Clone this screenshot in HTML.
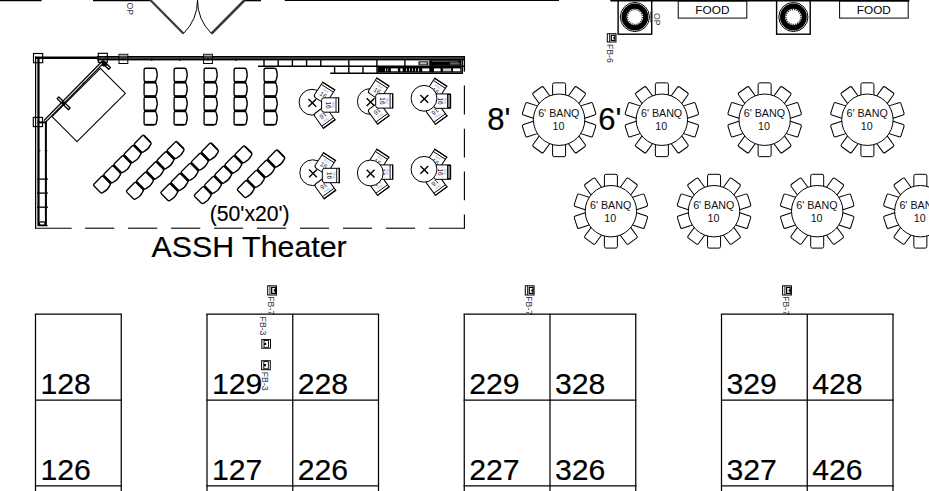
<!DOCTYPE html>
<html lang="en"><head><meta charset="utf-8"><title>Floor plan</title>
<style>
html,body{margin:0;padding:0;background:#fff;}
body{width:929px;height:491px;overflow:hidden;}
svg{display:block;}
svg text{font-family:"Liberation Sans",Arial,Helvetica,sans-serif;}
</style></head><body>
<svg width="929" height="491" viewBox="0 0 929 491">
<rect x="0" y="0" width="929" height="491" fill="#fff"/>
<line x1="0.00" y1="0.50" x2="41.60" y2="0.50" stroke="#000" stroke-width="1.6" />
<line x1="93.00" y1="0.50" x2="150.30" y2="0.50" stroke="#000" stroke-width="1.6" />
<line x1="244.70" y1="0.50" x2="261.00" y2="0.50" stroke="#000" stroke-width="1.6" />
<line x1="284.70" y1="0.30" x2="559.00" y2="0.30" stroke="#000" stroke-width="1.2" />
<line x1="610.30" y1="0.60" x2="909.40" y2="0.60" stroke="#000" stroke-width="2.0" />
<line x1="150.30" y1="0.00" x2="183.40" y2="33.60" stroke="#383838" stroke-width="2.2" />
<line x1="244.70" y1="0.00" x2="211.50" y2="33.60" stroke="#383838" stroke-width="2.6" />
<path d="M183.4 33.6 A47.2 47.2 0 0 0 197.5 0" fill="none" stroke="#000" stroke-width="1.0"/>
<path d="M211.5 33.6 A47.2 47.2 0 0 1 197.5 0" fill="none" stroke="#000" stroke-width="1.0"/>
<text x="126.50" y="2.50" font-size="8.6" text-anchor="start" fill="#334" transform="rotate(90 126.50 2.50)" >OP</text>
<rect x="618.10" y="0.30" width="33.60" height="33.90" rx="0" fill="none" stroke="#000" stroke-width="1.4" />
<circle cx="634.90" cy="17.00" r="14.55" fill="none" stroke="#000" stroke-width="1.0"/>
<circle cx="634.90" cy="17.00" r="10.85" fill="none" stroke="#000" stroke-width="5.1"/>
<circle cx="634.90" cy="17.00" r="7.4" fill="none" stroke="#222" stroke-width="1.1" stroke-dasharray="1.3 0.9"/>
<rect x="776.60" y="0.30" width="33.60" height="33.90" rx="0" fill="none" stroke="#000" stroke-width="1.4" />
<circle cx="793.40" cy="17.00" r="14.55" fill="none" stroke="#000" stroke-width="1.0"/>
<circle cx="793.40" cy="17.00" r="10.85" fill="none" stroke="#000" stroke-width="5.1"/>
<circle cx="793.40" cy="17.00" r="7.4" fill="none" stroke="#222" stroke-width="1.1" stroke-dasharray="1.3 0.9"/>
<rect x="650.30" y="12.00" width="1.60" height="10.00" rx="0" fill="none" stroke="#333" stroke-width="0.6" />
<text x="653.60" y="13.00" font-size="8.6" text-anchor="start" fill="#334" transform="rotate(90 653.60 13.00)" >OP</text>
<rect x="678.20" y="1.20" width="68.60" height="16.90" rx="0" fill="#fff" stroke="#000" stroke-width="1.0" />
<text x="712.40" y="13.55" font-size="11.8" text-anchor="middle" fill="#000" >FOOD</text>
<rect x="839.60" y="1.20" width="68.60" height="16.90" rx="0" fill="#fff" stroke="#000" stroke-width="1.0" />
<text x="873.80" y="13.55" font-size="11.8" text-anchor="middle" fill="#000" >FOOD</text>
<rect x="607.30" y="33.70" width="8.70" height="8.30" rx="0" fill="#fff" stroke="#000" stroke-width="1.0" />
<line x1="609.50" y1="33.70" x2="609.50" y2="42.00" stroke="#000" stroke-width="0.8" />
<rect x="610.60" y="34.70" width="4.90" height="6.30" rx="0" fill="#000" stroke="#000" stroke-width="0" />
<rect x="611.90" y="35.90" width="2.40" height="3.90" rx="0" fill="#fff" stroke="#000" stroke-width="0" />
<rect x="613.30" y="36.85" width="1.70" height="2.00" rx="0" fill="#000" stroke="#000" stroke-width="0" />
<text x="607.30" y="44.00" font-size="8.7" text-anchor="start" fill="#334" transform="rotate(90 607.30 44.00)" >FB-6</text>
<rect x="267.70" y="285.80" width="8.80" height="9.20" rx="0" fill="#fff" stroke="#000" stroke-width="1.0" />
<line x1="269.90" y1="285.80" x2="269.90" y2="295.00" stroke="#000" stroke-width="0.8" />
<rect x="271.00" y="286.80" width="5.00" height="7.20" rx="0" fill="#000" stroke="#000" stroke-width="0" />
<rect x="272.30" y="288.00" width="2.50" height="4.80" rx="0" fill="#fff" stroke="#000" stroke-width="0" />
<rect x="273.70" y="289.40" width="1.80" height="2.00" rx="0" fill="#000" stroke="#000" stroke-width="0" />
<text x="268.10" y="296.30" font-size="8.7" text-anchor="start" fill="#334" transform="rotate(90 268.10 296.30)" >FB-7</text>
<rect x="525.30" y="285.80" width="8.80" height="9.20" rx="0" fill="#fff" stroke="#000" stroke-width="1.0" />
<line x1="527.50" y1="285.80" x2="527.50" y2="295.00" stroke="#000" stroke-width="0.8" />
<rect x="528.60" y="286.80" width="5.00" height="7.20" rx="0" fill="#000" stroke="#000" stroke-width="0" />
<rect x="529.90" y="288.00" width="2.50" height="4.80" rx="0" fill="#fff" stroke="#000" stroke-width="0" />
<rect x="531.30" y="289.40" width="1.80" height="2.00" rx="0" fill="#000" stroke="#000" stroke-width="0" />
<text x="525.70" y="296.30" font-size="8.7" text-anchor="start" fill="#334" transform="rotate(90 525.70 296.30)" >FB-7</text>
<rect x="782.60" y="285.80" width="8.80" height="9.20" rx="0" fill="#fff" stroke="#000" stroke-width="1.0" />
<line x1="784.80" y1="285.80" x2="784.80" y2="295.00" stroke="#000" stroke-width="0.8" />
<rect x="785.90" y="286.80" width="5.00" height="7.20" rx="0" fill="#000" stroke="#000" stroke-width="0" />
<rect x="787.20" y="288.00" width="2.50" height="4.80" rx="0" fill="#fff" stroke="#000" stroke-width="0" />
<rect x="788.60" y="289.40" width="1.80" height="2.00" rx="0" fill="#000" stroke="#000" stroke-width="0" />
<text x="783.00" y="296.30" font-size="8.7" text-anchor="start" fill="#334" transform="rotate(90 783.00 296.30)" >FB-7</text>
<rect x="261.80" y="339.60" width="8.70" height="8.60" rx="0" fill="#fff" stroke="#000" stroke-width="1.0" />
<rect x="264.00" y="340.50" width="4.50" height="6.80" rx="0" fill="#fff" stroke="#000" stroke-width="0.9" />
<rect x="264.20" y="342.80" width="2.00" height="2.20" rx="0" fill="#000" stroke="#000" stroke-width="0" />
<text x="259.70" y="316.60" font-size="8.7" text-anchor="start" fill="#334" transform="rotate(90 259.70 316.60)" >FB-3</text>
<rect x="261.60" y="360.70" width="8.70" height="9.00" rx="0" fill="#fff" stroke="#000" stroke-width="1.0" />
<rect x="263.80" y="361.60" width="4.50" height="7.20" rx="0" fill="#fff" stroke="#000" stroke-width="0.9" />
<rect x="264.00" y="364.10" width="2.00" height="2.20" rx="0" fill="#000" stroke="#000" stroke-width="0" />
<text x="262.00" y="371.80" font-size="8.7" text-anchor="start" fill="#334" transform="rotate(90 262.00 371.80)" >FB-3</text>
<line x1="35.50" y1="228.20" x2="71.70" y2="228.20" stroke="#000" stroke-width="1.1" />
<line x1="85.10" y1="228.20" x2="114.30" y2="228.20" stroke="#000" stroke-width="1.1" />
<line x1="128.07" y1="228.20" x2="157.27" y2="228.20" stroke="#000" stroke-width="1.1" />
<line x1="171.04" y1="228.20" x2="200.24" y2="228.20" stroke="#000" stroke-width="1.1" />
<line x1="214.01" y1="228.20" x2="243.21" y2="228.20" stroke="#000" stroke-width="1.1" />
<line x1="256.98" y1="228.20" x2="286.18" y2="228.20" stroke="#000" stroke-width="1.1" />
<line x1="299.95" y1="228.20" x2="329.15" y2="228.20" stroke="#000" stroke-width="1.1" />
<line x1="342.92" y1="228.20" x2="372.12" y2="228.20" stroke="#000" stroke-width="1.1" />
<line x1="385.89" y1="228.20" x2="415.09" y2="228.20" stroke="#000" stroke-width="1.1" />
<line x1="428.90" y1="228.20" x2="464.40" y2="228.20" stroke="#000" stroke-width="1.1" />
<line x1="464.40" y1="85.60" x2="464.40" y2="114.60" stroke="#000" stroke-width="1.1" />
<line x1="464.40" y1="128.70" x2="464.40" y2="157.50" stroke="#000" stroke-width="1.1" />
<line x1="464.40" y1="171.60" x2="464.40" y2="200.30" stroke="#000" stroke-width="1.1" />
<line x1="464.40" y1="214.40" x2="464.40" y2="228.70" stroke="#000" stroke-width="1.1" />
<line x1="35.60" y1="56.50" x2="35.60" y2="228.70" stroke="#000" stroke-width="1.2" />
<rect x="36.20" y="59.00" width="1.40" height="166.00" rx="0" fill="#c8c8c8" stroke="#000" stroke-width="0" />
<line x1="38.50" y1="58.00" x2="38.50" y2="225.50" stroke="#000" stroke-width="2.2" />
<line x1="45.90" y1="121.50" x2="45.90" y2="225.50" stroke="#000" stroke-width="2.0" />
<line x1="37.60" y1="122.40" x2="46.90" y2="122.40" stroke="#000" stroke-width="2.0" />
<line x1="38.00" y1="150.70" x2="40.50" y2="150.70" stroke="#000" stroke-width="0.9" />
<line x1="44.80" y1="150.70" x2="47.40" y2="150.70" stroke="#000" stroke-width="0.9" />
<line x1="37.00" y1="179.10" x2="47.90" y2="179.10" stroke="#000" stroke-width="1.3" />
<line x1="37.00" y1="193.10" x2="47.90" y2="193.10" stroke="#000" stroke-width="1.3" />
<line x1="37.00" y1="207.20" x2="47.90" y2="207.20" stroke="#000" stroke-width="1.3" />
<rect x="39.40" y="221.80" width="5.60" height="3.40" rx="1.4" fill="none" stroke="#000" stroke-width="1.2" />
<line x1="37.60" y1="225.60" x2="47.60" y2="225.60" stroke="#000" stroke-width="1.3" />
<line x1="35.00" y1="57.75" x2="98.00" y2="57.75" stroke="#000" stroke-width="2.5" />
<rect x="97.00" y="56.10" width="367.40" height="4.20" rx="0" fill="#505050" stroke="#000" stroke-width="0" />
<line x1="97.00" y1="56.70" x2="464.40" y2="56.70" stroke="#000" stroke-width="1.3" />
<line x1="97.00" y1="59.50" x2="464.40" y2="59.50" stroke="#000" stroke-width="1.6" />
<rect x="33.50" y="53.50" width="9.20" height="9.20" rx="0" fill="none" stroke="#000" stroke-width="1.15" />
<rect x="98.30" y="53.30" width="9.00" height="9.00" rx="0" fill="none" stroke="#000" stroke-width="1.15" />
<rect x="33.30" y="117.40" width="9.20" height="9.20" rx="0" fill="none" stroke="#000" stroke-width="1.15" />
<rect x="119.00" y="54.30" width="8.80" height="9.20" rx="0" fill="none" stroke="#000" stroke-width="1.0" />
<rect x="119.50" y="54.80" width="7.80" height="1.60" rx="0" fill="#aaa" stroke="#000" stroke-width="0" />
<circle cx="123.40" cy="59.50" r="0.90" fill="#000" stroke="#000" stroke-width="0"/>
<rect x="203.60" y="54.30" width="8.80" height="9.20" rx="0" fill="none" stroke="#000" stroke-width="1.0" />
<rect x="204.10" y="54.80" width="7.80" height="1.60" rx="0" fill="#aaa" stroke="#000" stroke-width="0" />
<circle cx="208.00" cy="59.50" r="0.90" fill="#000" stroke="#000" stroke-width="0"/>
<circle cx="151.60" cy="59.70" r="1.15" fill="#000" stroke="#000" stroke-width="0"/>
<circle cx="179.70" cy="59.70" r="1.15" fill="#000" stroke="#000" stroke-width="0"/>
<circle cx="236.10" cy="59.70" r="1.15" fill="#000" stroke="#000" stroke-width="0"/>
<circle cx="264.00" cy="59.70" r="1.15" fill="#000" stroke="#000" stroke-width="0"/>
<path d="M100.40 68.30 L125.40 93.30 L77.00 141.70 L52.00 116.70 Z" fill="none" stroke="#000" stroke-width="1.05" stroke-linejoin="round"/>
<path d="M58.80 96.91 L70.08 107.97 L68.40 109.69 L57.12 98.63 Z" fill="#fff" stroke="#000" stroke-width="1.35" stroke-linejoin="round"/>
<path d="M103.17 60.49 L110.38 67.56 L108.70 69.28 L101.49 62.21 Z" fill="#fff" stroke="#000" stroke-width="1.35" stroke-linejoin="round"/>
<line x1="103.00" y1="62.00" x2="44.90" y2="121.30" stroke="#000" stroke-width="3.6" />
<line x1="101.95" y1="63.07" x2="45.25" y2="120.94" stroke="#e8e8e8" stroke-width="1.2" />
<circle cx="63.60" cy="103.30" r="2.10" fill="#000" stroke="#000" stroke-width="0"/>
<circle cx="104.30" cy="64.00" r="2.60" fill="#000" stroke="#000" stroke-width="0"/>
<circle cx="83.50" cy="83.30" r="0.90" fill="#000" stroke="#000" stroke-width="0"/>
<line x1="258.00" y1="66.30" x2="464.40" y2="66.30" stroke="#000" stroke-width="1.4" />
<line x1="264.00" y1="59.50" x2="264.00" y2="66.30" stroke="#000" stroke-width="1.4" />
<line x1="278.20" y1="59.50" x2="278.20" y2="66.30" stroke="#000" stroke-width="1.4" />
<line x1="292.40" y1="59.50" x2="292.40" y2="66.30" stroke="#000" stroke-width="1.4" />
<line x1="306.60" y1="59.50" x2="306.60" y2="66.30" stroke="#000" stroke-width="1.4" />
<line x1="320.80" y1="59.50" x2="320.80" y2="66.30" stroke="#000" stroke-width="1.4" />
<line x1="348.80" y1="59.50" x2="348.80" y2="66.30" stroke="#000" stroke-width="1.4" />
<line x1="376.90" y1="59.50" x2="376.90" y2="66.30" stroke="#000" stroke-width="1.4" />
<line x1="404.90" y1="59.50" x2="404.90" y2="66.30" stroke="#000" stroke-width="1.4" />
<line x1="330.20" y1="73.20" x2="462.60" y2="73.20" stroke="#000" stroke-width="1.4" />
<line x1="334.60" y1="66.30" x2="334.60" y2="73.20" stroke="#000" stroke-width="1.4" />
<line x1="348.80" y1="66.30" x2="348.80" y2="73.20" stroke="#000" stroke-width="1.4" />
<line x1="363.00" y1="66.30" x2="363.00" y2="73.20" stroke="#000" stroke-width="1.4" />
<line x1="377.00" y1="66.30" x2="377.00" y2="73.20" stroke="#000" stroke-width="1.4" />
<rect x="418.40" y="61.20" width="10.00" height="4.20" rx="0" fill="#333" stroke="#000" stroke-width="0" />
<rect x="420.20" y="62.30" width="6.40" height="2.00" rx="0" fill="#bbb" stroke="#000" stroke-width="0" />
<rect x="429.20" y="60.20" width="32.20" height="5.60" rx="0" fill="#000" stroke="#000" stroke-width="0" />
<rect x="450.00" y="62.40" width="9.50" height="2.20" rx="0" fill="#666" stroke="#000" stroke-width="0" />
<rect x="432.00" y="61.00" width="26.00" height="0.70" rx="0" fill="#666" stroke="#000" stroke-width="0" />
<rect x="377.60" y="67.00" width="84.00" height="5.60" rx="0" fill="#000" stroke="#000" stroke-width="0" />
<rect x="385.00" y="68.40" width="1.00" height="2.90" rx="0" fill="#ccc" stroke="#000" stroke-width="0" />
<rect x="387.40" y="68.40" width="0.80" height="2.90" rx="0" fill="#ccc" stroke="#000" stroke-width="0" />
<rect x="390.80" y="68.40" width="7.10" height="2.90" rx="0" fill="#fff" stroke="#000" stroke-width="0" />
<rect x="400.30" y="68.40" width="2.30" height="2.90" rx="0" fill="#fff" stroke="#000" stroke-width="0" />
<rect x="406.00" y="68.40" width="1.00" height="2.90" rx="0" fill="#bbb" stroke="#000" stroke-width="0" />
<rect x="409.00" y="68.40" width="1.00" height="2.90" rx="0" fill="#bbb" stroke="#000" stroke-width="0" />
<rect x="412.00" y="68.40" width="1.00" height="2.90" rx="0" fill="#bbb" stroke="#000" stroke-width="0" />
<rect x="415.00" y="68.40" width="1.00" height="2.90" rx="0" fill="#bbb" stroke="#000" stroke-width="0" />
<rect x="418.00" y="68.40" width="1.20" height="2.90" rx="0" fill="#ccc" stroke="#000" stroke-width="0" />
<rect x="422.20" y="68.40" width="7.10" height="2.90" rx="0" fill="#fff" stroke="#000" stroke-width="0" />
<rect x="434.00" y="68.40" width="6.50" height="2.90" rx="0" fill="#fff" stroke="#000" stroke-width="0" />
<rect x="442.90" y="68.40" width="8.30" height="2.90" rx="0" fill="#ccc" stroke="#000" stroke-width="0" />
<rect x="453.00" y="68.40" width="7.30" height="2.90" rx="0" fill="#fff" stroke="#000" stroke-width="0" />
<line x1="399.20" y1="67.00" x2="399.20" y2="72.60" stroke="#000" stroke-width="1.0" />
<line x1="431.80" y1="67.00" x2="431.80" y2="72.60" stroke="#000" stroke-width="1.0" />
<line x1="441.70" y1="67.00" x2="441.70" y2="72.60" stroke="#000" stroke-width="1.0" />
<line x1="464.40" y1="56.20" x2="464.40" y2="71.60" stroke="#000" stroke-width="1.3" />
<line x1="462.40" y1="59.50" x2="462.40" y2="73.80" stroke="#000" stroke-width="1.3" />
<path d="M0 1.5 L0 10.20 Q0 12.20 1.8 12.30 Q6.75 13.95 11.10 12.30 Q13.50 12.20 13.50 9.80 L13.50 1.5 Q13.50 0 12.00 0 L1.5 0 Q0 0 0 1.5 Z" fill="none" stroke="#000" stroke-width="1.35" transform="matrix(0.0000 1.0000 1.0000 0.0000 144.10 68.20)"/>
<path d="M0 1.5 L0 10.20 Q0 12.20 1.8 12.30 Q6.75 13.95 11.10 12.30 Q13.50 12.20 13.50 9.80 L13.50 1.5 Q13.50 0 12.00 0 L1.5 0 Q0 0 0 1.5 Z" fill="none" stroke="#000" stroke-width="1.35" transform="matrix(0.0000 1.0000 1.0000 0.0000 144.10 82.60)"/>
<line x1="144.30" y1="82.15" x2="156.10" y2="82.15" stroke="#000" stroke-width="2.5" />
<path d="M0 1.5 L0 10.20 Q0 12.20 1.8 12.30 Q6.75 13.95 11.10 12.30 Q13.50 12.20 13.50 9.80 L13.50 1.5 Q13.50 0 12.00 0 L1.5 0 Q0 0 0 1.5 Z" fill="none" stroke="#000" stroke-width="1.35" transform="matrix(0.0000 1.0000 1.0000 0.0000 144.10 97.00)"/>
<line x1="144.30" y1="96.55" x2="156.10" y2="96.55" stroke="#000" stroke-width="2.5" />
<path d="M0 1.5 L0 10.20 Q0 12.20 1.8 12.30 Q6.75 13.95 11.10 12.30 Q13.50 12.20 13.50 9.80 L13.50 1.5 Q13.50 0 12.00 0 L1.5 0 Q0 0 0 1.5 Z" fill="none" stroke="#000" stroke-width="1.35" transform="matrix(0.0000 1.0000 1.0000 0.0000 144.10 111.40)"/>
<line x1="144.30" y1="110.95" x2="156.10" y2="110.95" stroke="#000" stroke-width="2.5" />
<line x1="145.30" y1="124.70" x2="154.30" y2="124.70" stroke="#000" stroke-width="1.7" />
<path d="M0 1.5 L0 10.20 Q0 12.20 1.8 12.30 Q6.75 13.95 11.10 12.30 Q13.50 12.20 13.50 9.80 L13.50 1.5 Q13.50 0 12.00 0 L1.5 0 Q0 0 0 1.5 Z" fill="none" stroke="#000" stroke-width="1.35" transform="matrix(0.0000 1.0000 1.0000 0.0000 174.10 68.20)"/>
<path d="M0 1.5 L0 10.20 Q0 12.20 1.8 12.30 Q6.75 13.95 11.10 12.30 Q13.50 12.20 13.50 9.80 L13.50 1.5 Q13.50 0 12.00 0 L1.5 0 Q0 0 0 1.5 Z" fill="none" stroke="#000" stroke-width="1.35" transform="matrix(0.0000 1.0000 1.0000 0.0000 174.10 82.60)"/>
<line x1="174.30" y1="82.15" x2="186.10" y2="82.15" stroke="#000" stroke-width="2.5" />
<path d="M0 1.5 L0 10.20 Q0 12.20 1.8 12.30 Q6.75 13.95 11.10 12.30 Q13.50 12.20 13.50 9.80 L13.50 1.5 Q13.50 0 12.00 0 L1.5 0 Q0 0 0 1.5 Z" fill="none" stroke="#000" stroke-width="1.35" transform="matrix(0.0000 1.0000 1.0000 0.0000 174.10 97.00)"/>
<line x1="174.30" y1="96.55" x2="186.10" y2="96.55" stroke="#000" stroke-width="2.5" />
<path d="M0 1.5 L0 10.20 Q0 12.20 1.8 12.30 Q6.75 13.95 11.10 12.30 Q13.50 12.20 13.50 9.80 L13.50 1.5 Q13.50 0 12.00 0 L1.5 0 Q0 0 0 1.5 Z" fill="none" stroke="#000" stroke-width="1.35" transform="matrix(0.0000 1.0000 1.0000 0.0000 174.10 111.40)"/>
<line x1="174.30" y1="110.95" x2="186.10" y2="110.95" stroke="#000" stroke-width="2.5" />
<line x1="175.30" y1="124.70" x2="184.30" y2="124.70" stroke="#000" stroke-width="1.7" />
<path d="M0 1.5 L0 10.20 Q0 12.20 1.8 12.30 Q6.75 13.95 11.10 12.30 Q13.50 12.20 13.50 9.80 L13.50 1.5 Q13.50 0 12.00 0 L1.5 0 Q0 0 0 1.5 Z" fill="none" stroke="#000" stroke-width="1.35" transform="matrix(0.0000 1.0000 1.0000 0.0000 204.10 68.20)"/>
<path d="M0 1.5 L0 10.20 Q0 12.20 1.8 12.30 Q6.75 13.95 11.10 12.30 Q13.50 12.20 13.50 9.80 L13.50 1.5 Q13.50 0 12.00 0 L1.5 0 Q0 0 0 1.5 Z" fill="none" stroke="#000" stroke-width="1.35" transform="matrix(0.0000 1.0000 1.0000 0.0000 204.10 82.60)"/>
<line x1="204.30" y1="82.15" x2="216.10" y2="82.15" stroke="#000" stroke-width="2.5" />
<path d="M0 1.5 L0 10.20 Q0 12.20 1.8 12.30 Q6.75 13.95 11.10 12.30 Q13.50 12.20 13.50 9.80 L13.50 1.5 Q13.50 0 12.00 0 L1.5 0 Q0 0 0 1.5 Z" fill="none" stroke="#000" stroke-width="1.35" transform="matrix(0.0000 1.0000 1.0000 0.0000 204.10 97.00)"/>
<line x1="204.30" y1="96.55" x2="216.10" y2="96.55" stroke="#000" stroke-width="2.5" />
<path d="M0 1.5 L0 10.20 Q0 12.20 1.8 12.30 Q6.75 13.95 11.10 12.30 Q13.50 12.20 13.50 9.80 L13.50 1.5 Q13.50 0 12.00 0 L1.5 0 Q0 0 0 1.5 Z" fill="none" stroke="#000" stroke-width="1.35" transform="matrix(0.0000 1.0000 1.0000 0.0000 204.10 111.40)"/>
<line x1="204.30" y1="110.95" x2="216.10" y2="110.95" stroke="#000" stroke-width="2.5" />
<line x1="205.30" y1="124.70" x2="214.30" y2="124.70" stroke="#000" stroke-width="1.7" />
<path d="M0 1.5 L0 10.20 Q0 12.20 1.8 12.30 Q6.75 13.95 11.10 12.30 Q13.50 12.20 13.50 9.80 L13.50 1.5 Q13.50 0 12.00 0 L1.5 0 Q0 0 0 1.5 Z" fill="none" stroke="#000" stroke-width="1.35" transform="matrix(0.0000 1.0000 1.0000 0.0000 234.10 68.20)"/>
<path d="M0 1.5 L0 10.20 Q0 12.20 1.8 12.30 Q6.75 13.95 11.10 12.30 Q13.50 12.20 13.50 9.80 L13.50 1.5 Q13.50 0 12.00 0 L1.5 0 Q0 0 0 1.5 Z" fill="none" stroke="#000" stroke-width="1.35" transform="matrix(0.0000 1.0000 1.0000 0.0000 234.10 82.60)"/>
<line x1="234.30" y1="82.15" x2="246.10" y2="82.15" stroke="#000" stroke-width="2.5" />
<path d="M0 1.5 L0 10.20 Q0 12.20 1.8 12.30 Q6.75 13.95 11.10 12.30 Q13.50 12.20 13.50 9.80 L13.50 1.5 Q13.50 0 12.00 0 L1.5 0 Q0 0 0 1.5 Z" fill="none" stroke="#000" stroke-width="1.35" transform="matrix(0.0000 1.0000 1.0000 0.0000 234.10 97.00)"/>
<line x1="234.30" y1="96.55" x2="246.10" y2="96.55" stroke="#000" stroke-width="2.5" />
<path d="M0 1.5 L0 10.20 Q0 12.20 1.8 12.30 Q6.75 13.95 11.10 12.30 Q13.50 12.20 13.50 9.80 L13.50 1.5 Q13.50 0 12.00 0 L1.5 0 Q0 0 0 1.5 Z" fill="none" stroke="#000" stroke-width="1.35" transform="matrix(0.0000 1.0000 1.0000 0.0000 234.10 111.40)"/>
<line x1="234.30" y1="110.95" x2="246.10" y2="110.95" stroke="#000" stroke-width="2.5" />
<line x1="235.30" y1="124.70" x2="244.30" y2="124.70" stroke="#000" stroke-width="1.7" />
<path d="M0 1.5 L0 10.20 Q0 12.20 1.8 12.30 Q6.75 13.95 11.10 12.30 Q13.50 12.20 13.50 9.80 L13.50 1.5 Q13.50 0 12.00 0 L1.5 0 Q0 0 0 1.5 Z" fill="none" stroke="#000" stroke-width="1.35" transform="matrix(0.0000 1.0000 1.0000 0.0000 264.10 68.20)"/>
<path d="M0 1.5 L0 10.20 Q0 12.20 1.8 12.30 Q6.75 13.95 11.10 12.30 Q13.50 12.20 13.50 9.80 L13.50 1.5 Q13.50 0 12.00 0 L1.5 0 Q0 0 0 1.5 Z" fill="none" stroke="#000" stroke-width="1.35" transform="matrix(0.0000 1.0000 1.0000 0.0000 264.10 82.60)"/>
<line x1="264.30" y1="82.15" x2="276.10" y2="82.15" stroke="#000" stroke-width="2.5" />
<path d="M0 1.5 L0 10.20 Q0 12.20 1.8 12.30 Q6.75 13.95 11.10 12.30 Q13.50 12.20 13.50 9.80 L13.50 1.5 Q13.50 0 12.00 0 L1.5 0 Q0 0 0 1.5 Z" fill="none" stroke="#000" stroke-width="1.35" transform="matrix(0.0000 1.0000 1.0000 0.0000 264.10 97.00)"/>
<line x1="264.30" y1="96.55" x2="276.10" y2="96.55" stroke="#000" stroke-width="2.5" />
<path d="M0 1.5 L0 10.20 Q0 12.20 1.8 12.30 Q6.75 13.95 11.10 12.30 Q13.50 12.20 13.50 9.80 L13.50 1.5 Q13.50 0 12.00 0 L1.5 0 Q0 0 0 1.5 Z" fill="none" stroke="#000" stroke-width="1.35" transform="matrix(0.0000 1.0000 1.0000 0.0000 264.10 111.40)"/>
<line x1="264.30" y1="110.95" x2="276.10" y2="110.95" stroke="#000" stroke-width="2.5" />
<line x1="265.30" y1="124.70" x2="274.30" y2="124.70" stroke="#000" stroke-width="1.7" />
<path d="M0 1.5 L0 10.20 Q0 12.20 1.8 12.30 Q6.75 13.95 11.10 12.30 Q13.50 12.20 13.50 9.80 L13.50 1.5 Q13.50 0 12.00 0 L1.5 0 Q0 0 0 1.5 Z" fill="none" stroke="#000" stroke-width="1.35" transform="matrix(0.7071 -0.7071 0.7071 0.7071 93.02 185.03)"/>
<path d="M0 1.5 L0 10.20 Q0 12.20 1.8 12.30 Q6.75 13.95 11.10 12.30 Q13.50 12.20 13.50 9.80 L13.50 1.5 Q13.50 0 12.00 0 L1.5 0 Q0 0 0 1.5 Z" fill="none" stroke="#000" stroke-width="1.35" transform="matrix(0.7071 -0.7071 0.7071 0.7071 103.21 174.84)"/>
<line x1="103.03" y1="175.30" x2="111.37" y2="183.65" stroke="#000" stroke-width="2.5" />
<path d="M0 1.5 L0 10.20 Q0 12.20 1.8 12.30 Q6.75 13.95 11.10 12.30 Q13.50 12.20 13.50 9.80 L13.50 1.5 Q13.50 0 12.00 0 L1.5 0 Q0 0 0 1.5 Z" fill="none" stroke="#000" stroke-width="1.35" transform="matrix(0.7071 -0.7071 0.7071 0.7071 113.39 164.66)"/>
<line x1="113.21" y1="165.12" x2="121.56" y2="173.46" stroke="#000" stroke-width="2.5" />
<path d="M0 1.5 L0 10.20 Q0 12.20 1.8 12.30 Q6.75 13.95 11.10 12.30 Q13.50 12.20 13.50 9.80 L13.50 1.5 Q13.50 0 12.00 0 L1.5 0 Q0 0 0 1.5 Z" fill="none" stroke="#000" stroke-width="1.35" transform="matrix(0.7071 -0.7071 0.7071 0.7071 123.57 154.48)"/>
<line x1="123.39" y1="154.94" x2="131.74" y2="163.28" stroke="#000" stroke-width="2.5" />
<path d="M0 1.5 L0 10.20 Q0 12.20 1.8 12.30 Q6.75 13.95 11.10 12.30 Q13.50 12.20 13.50 9.80 L13.50 1.5 Q13.50 0 12.00 0 L1.5 0 Q0 0 0 1.5 Z" fill="none" stroke="#000" stroke-width="1.35" transform="matrix(0.7071 -0.7071 0.7071 0.7071 133.75 144.30)"/>
<line x1="133.58" y1="144.76" x2="141.92" y2="153.10" stroke="#000" stroke-width="2.5" />
<line x1="144.01" y1="135.74" x2="150.37" y2="142.10" stroke="#000" stroke-width="1.7" />
<path d="M0 1.5 L0 10.20 Q0 12.20 1.8 12.30 Q6.75 13.95 11.10 12.30 Q13.50 12.20 13.50 9.80 L13.50 1.5 Q13.50 0 12.00 0 L1.5 0 Q0 0 0 1.5 Z" fill="none" stroke="#000" stroke-width="1.35" transform="matrix(0.7071 -0.7071 0.7071 0.7071 125.92 191.33)"/>
<path d="M0 1.5 L0 10.20 Q0 12.20 1.8 12.30 Q6.75 13.95 11.10 12.30 Q13.50 12.20 13.50 9.80 L13.50 1.5 Q13.50 0 12.00 0 L1.5 0 Q0 0 0 1.5 Z" fill="none" stroke="#000" stroke-width="1.35" transform="matrix(0.7071 -0.7071 0.7071 0.7071 136.11 181.14)"/>
<line x1="135.93" y1="181.60" x2="144.27" y2="189.95" stroke="#000" stroke-width="2.5" />
<path d="M0 1.5 L0 10.20 Q0 12.20 1.8 12.30 Q6.75 13.95 11.10 12.30 Q13.50 12.20 13.50 9.80 L13.50 1.5 Q13.50 0 12.00 0 L1.5 0 Q0 0 0 1.5 Z" fill="none" stroke="#000" stroke-width="1.35" transform="matrix(0.7071 -0.7071 0.7071 0.7071 146.29 170.96)"/>
<line x1="146.11" y1="171.42" x2="154.46" y2="179.76" stroke="#000" stroke-width="2.5" />
<path d="M0 1.5 L0 10.20 Q0 12.20 1.8 12.30 Q6.75 13.95 11.10 12.30 Q13.50 12.20 13.50 9.80 L13.50 1.5 Q13.50 0 12.00 0 L1.5 0 Q0 0 0 1.5 Z" fill="none" stroke="#000" stroke-width="1.35" transform="matrix(0.7071 -0.7071 0.7071 0.7071 156.47 160.78)"/>
<line x1="156.29" y1="161.24" x2="164.64" y2="169.58" stroke="#000" stroke-width="2.5" />
<path d="M0 1.5 L0 10.20 Q0 12.20 1.8 12.30 Q6.75 13.95 11.10 12.30 Q13.50 12.20 13.50 9.80 L13.50 1.5 Q13.50 0 12.00 0 L1.5 0 Q0 0 0 1.5 Z" fill="none" stroke="#000" stroke-width="1.35" transform="matrix(0.7071 -0.7071 0.7071 0.7071 166.65 150.60)"/>
<line x1="166.48" y1="151.06" x2="174.82" y2="159.40" stroke="#000" stroke-width="2.5" />
<line x1="176.91" y1="142.04" x2="183.27" y2="148.40" stroke="#000" stroke-width="1.7" />
<path d="M0 1.5 L0 10.20 Q0 12.20 1.8 12.30 Q6.75 13.95 11.10 12.30 Q13.50 12.20 13.50 9.80 L13.50 1.5 Q13.50 0 12.00 0 L1.5 0 Q0 0 0 1.5 Z" fill="none" stroke="#000" stroke-width="1.35" transform="matrix(0.7071 -0.7071 0.7071 0.7071 160.32 192.73)"/>
<path d="M0 1.5 L0 10.20 Q0 12.20 1.8 12.30 Q6.75 13.95 11.10 12.30 Q13.50 12.20 13.50 9.80 L13.50 1.5 Q13.50 0 12.00 0 L1.5 0 Q0 0 0 1.5 Z" fill="none" stroke="#000" stroke-width="1.35" transform="matrix(0.7071 -0.7071 0.7071 0.7071 170.51 182.54)"/>
<line x1="170.33" y1="183.00" x2="178.67" y2="191.35" stroke="#000" stroke-width="2.5" />
<path d="M0 1.5 L0 10.20 Q0 12.20 1.8 12.30 Q6.75 13.95 11.10 12.30 Q13.50 12.20 13.50 9.80 L13.50 1.5 Q13.50 0 12.00 0 L1.5 0 Q0 0 0 1.5 Z" fill="none" stroke="#000" stroke-width="1.35" transform="matrix(0.7071 -0.7071 0.7071 0.7071 180.69 172.36)"/>
<line x1="180.51" y1="172.82" x2="188.86" y2="181.16" stroke="#000" stroke-width="2.5" />
<path d="M0 1.5 L0 10.20 Q0 12.20 1.8 12.30 Q6.75 13.95 11.10 12.30 Q13.50 12.20 13.50 9.80 L13.50 1.5 Q13.50 0 12.00 0 L1.5 0 Q0 0 0 1.5 Z" fill="none" stroke="#000" stroke-width="1.35" transform="matrix(0.7071 -0.7071 0.7071 0.7071 190.87 162.18)"/>
<line x1="190.69" y1="162.64" x2="199.04" y2="170.98" stroke="#000" stroke-width="2.5" />
<path d="M0 1.5 L0 10.20 Q0 12.20 1.8 12.30 Q6.75 13.95 11.10 12.30 Q13.50 12.20 13.50 9.80 L13.50 1.5 Q13.50 0 12.00 0 L1.5 0 Q0 0 0 1.5 Z" fill="none" stroke="#000" stroke-width="1.35" transform="matrix(0.7071 -0.7071 0.7071 0.7071 201.05 152.00)"/>
<line x1="200.88" y1="152.46" x2="209.22" y2="160.80" stroke="#000" stroke-width="2.5" />
<line x1="211.31" y1="143.44" x2="217.67" y2="149.80" stroke="#000" stroke-width="1.7" />
<path d="M0 1.5 L0 10.20 Q0 12.20 1.8 12.30 Q6.75 13.95 11.10 12.30 Q13.50 12.20 13.50 9.80 L13.50 1.5 Q13.50 0 12.00 0 L1.5 0 Q0 0 0 1.5 Z" fill="none" stroke="#000" stroke-width="1.35" transform="matrix(0.7071 -0.7071 0.7071 0.7071 193.82 195.63)"/>
<path d="M0 1.5 L0 10.20 Q0 12.20 1.8 12.30 Q6.75 13.95 11.10 12.30 Q13.50 12.20 13.50 9.80 L13.50 1.5 Q13.50 0 12.00 0 L1.5 0 Q0 0 0 1.5 Z" fill="none" stroke="#000" stroke-width="1.35" transform="matrix(0.7071 -0.7071 0.7071 0.7071 204.01 185.44)"/>
<line x1="203.83" y1="185.90" x2="212.17" y2="194.25" stroke="#000" stroke-width="2.5" />
<path d="M0 1.5 L0 10.20 Q0 12.20 1.8 12.30 Q6.75 13.95 11.10 12.30 Q13.50 12.20 13.50 9.80 L13.50 1.5 Q13.50 0 12.00 0 L1.5 0 Q0 0 0 1.5 Z" fill="none" stroke="#000" stroke-width="1.35" transform="matrix(0.7071 -0.7071 0.7071 0.7071 214.19 175.26)"/>
<line x1="214.01" y1="175.72" x2="222.36" y2="184.06" stroke="#000" stroke-width="2.5" />
<path d="M0 1.5 L0 10.20 Q0 12.20 1.8 12.30 Q6.75 13.95 11.10 12.30 Q13.50 12.20 13.50 9.80 L13.50 1.5 Q13.50 0 12.00 0 L1.5 0 Q0 0 0 1.5 Z" fill="none" stroke="#000" stroke-width="1.35" transform="matrix(0.7071 -0.7071 0.7071 0.7071 224.37 165.08)"/>
<line x1="224.19" y1="165.54" x2="232.54" y2="173.88" stroke="#000" stroke-width="2.5" />
<path d="M0 1.5 L0 10.20 Q0 12.20 1.8 12.30 Q6.75 13.95 11.10 12.30 Q13.50 12.20 13.50 9.80 L13.50 1.5 Q13.50 0 12.00 0 L1.5 0 Q0 0 0 1.5 Z" fill="none" stroke="#000" stroke-width="1.35" transform="matrix(0.7071 -0.7071 0.7071 0.7071 234.55 154.90)"/>
<line x1="234.38" y1="155.36" x2="242.72" y2="163.70" stroke="#000" stroke-width="2.5" />
<line x1="244.81" y1="146.34" x2="251.17" y2="152.70" stroke="#000" stroke-width="1.7" />
<path d="M0 1.5 L0 10.20 Q0 12.20 1.8 12.30 Q6.75 13.95 11.10 12.30 Q13.50 12.20 13.50 9.80 L13.50 1.5 Q13.50 0 12.00 0 L1.5 0 Q0 0 0 1.5 Z" fill="none" stroke="#000" stroke-width="1.35" transform="matrix(0.7071 -0.7071 0.7071 0.7071 236.81 189.54)"/>
<path d="M0 1.5 L0 10.20 Q0 12.20 1.8 12.30 Q6.75 13.95 11.10 12.30 Q13.50 12.20 13.50 9.80 L13.50 1.5 Q13.50 0 12.00 0 L1.5 0 Q0 0 0 1.5 Z" fill="none" stroke="#000" stroke-width="1.35" transform="matrix(0.7071 -0.7071 0.7071 0.7071 246.99 179.36)"/>
<line x1="246.81" y1="179.82" x2="255.16" y2="188.16" stroke="#000" stroke-width="2.5" />
<path d="M0 1.5 L0 10.20 Q0 12.20 1.8 12.30 Q6.75 13.95 11.10 12.30 Q13.50 12.20 13.50 9.80 L13.50 1.5 Q13.50 0 12.00 0 L1.5 0 Q0 0 0 1.5 Z" fill="none" stroke="#000" stroke-width="1.35" transform="matrix(0.7071 -0.7071 0.7071 0.7071 257.17 169.18)"/>
<line x1="256.99" y1="169.64" x2="265.34" y2="177.98" stroke="#000" stroke-width="2.5" />
<path d="M0 1.5 L0 10.20 Q0 12.20 1.8 12.30 Q6.75 13.95 11.10 12.30 Q13.50 12.20 13.50 9.80 L13.50 1.5 Q13.50 0 12.00 0 L1.5 0 Q0 0 0 1.5 Z" fill="none" stroke="#000" stroke-width="1.35" transform="matrix(0.7071 -0.7071 0.7071 0.7071 267.35 159.00)"/>
<line x1="267.18" y1="159.46" x2="275.52" y2="167.80" stroke="#000" stroke-width="2.5" />
<line x1="277.61" y1="150.44" x2="283.97" y2="156.80" stroke="#000" stroke-width="1.7" />
<circle cx="312.00" cy="102.20" r="12.90" fill="#fff" stroke="#000" stroke-width="1.0"/>
<line x1="308.40" y1="98.90" x2="316.20" y2="106.70" stroke="#000" stroke-width="1.4" />
<line x1="308.40" y1="106.70" x2="316.20" y2="98.90" stroke="#000" stroke-width="1.4" />
<g transform="translate(328.75 86.10) rotate(-57)"><path d="M0 -7.20 L-14.50 -7.20 Q-17.00 -7.20 -17.00 -4.70 L-17.00 4.70 Q-17.00 7.20 -14.50 7.20 L0 7.20 Z" fill="#fff" stroke="#000" stroke-width="1.0"/><line x1="-2.6" y1="-7.20" x2="-2.6" y2="7.20" stroke="#000" stroke-width="0.9"/><line x1="0" y1="-7.70" x2="0" y2="7.70" stroke="#000" stroke-width="1.15"/><text x="-12.6" y="0" font-size="6.4" text-anchor="middle" fill="#223" transform="rotate(90 -12.6 0)">16</text><text x="-6.3" y="0" font-size="3" text-anchor="middle" fill="#79b" transform="rotate(90 -6.3 0)">Blue</text></g>
<g transform="translate(329.20 124.00) rotate(54)"><path d="M0 -7.20 L-14.50 -7.20 Q-17.00 -7.20 -17.00 -4.70 L-17.00 4.70 Q-17.00 7.20 -14.50 7.20 L0 7.20 Z" fill="#fff" stroke="#000" stroke-width="1.0"/><line x1="-2.6" y1="-7.20" x2="-2.6" y2="7.20" stroke="#000" stroke-width="0.9"/><line x1="0" y1="-7.70" x2="0" y2="7.70" stroke="#000" stroke-width="1.15"/><text x="-12.6" y="0" font-size="6.4" text-anchor="middle" fill="#223" transform="rotate(90 -12.6 0)">16</text><text x="-6.3" y="0" font-size="3" text-anchor="middle" fill="#79b" transform="rotate(90 -6.3 0)">Blue</text></g>
<g transform="translate(338.60 105.00) rotate(0)"><path d="M0 -7.20 L-14.50 -7.20 Q-17.00 -7.20 -17.00 -4.70 L-17.00 4.70 Q-17.00 7.20 -14.50 7.20 L0 7.20 Z" fill="#fff" stroke="#000" stroke-width="1.0"/><line x1="-2.6" y1="-7.20" x2="-2.6" y2="7.20" stroke="#000" stroke-width="0.9"/><line x1="0" y1="-7.70" x2="0" y2="7.70" stroke="#000" stroke-width="1.15"/><text x="-12.6" y="0" font-size="6.4" text-anchor="middle" fill="#223" transform="rotate(90 -12.6 0)">16</text><text x="-6.3" y="0" font-size="3" text-anchor="middle" fill="#79b" transform="rotate(90 -6.3 0)">Blue</text></g>
<circle cx="370.30" cy="101.50" r="12.90" fill="#fff" stroke="#000" stroke-width="1.0"/>
<line x1="366.70" y1="98.20" x2="374.50" y2="106.00" stroke="#000" stroke-width="1.4" />
<line x1="366.70" y1="106.00" x2="374.50" y2="98.20" stroke="#000" stroke-width="1.4" />
<g transform="translate(382.85 82.00) rotate(-57)"><path d="M0 -7.20 L-14.50 -7.20 Q-17.00 -7.20 -17.00 -4.70 L-17.00 4.70 Q-17.00 7.20 -14.50 7.20 L0 7.20 Z" fill="#fff" stroke="#000" stroke-width="1.0"/><line x1="-2.6" y1="-7.20" x2="-2.6" y2="7.20" stroke="#000" stroke-width="0.9"/><line x1="0" y1="-7.70" x2="0" y2="7.70" stroke="#000" stroke-width="1.15"/><text x="-12.6" y="0" font-size="6.4" text-anchor="middle" fill="#223" transform="rotate(90 -12.6 0)">16</text><text x="-6.3" y="0" font-size="3" text-anchor="middle" fill="#79b" transform="rotate(90 -6.3 0)">Blue</text></g>
<g transform="translate(383.30 119.90) rotate(54)"><path d="M0 -7.20 L-14.50 -7.20 Q-17.00 -7.20 -17.00 -4.70 L-17.00 4.70 Q-17.00 7.20 -14.50 7.20 L0 7.20 Z" fill="#fff" stroke="#000" stroke-width="1.0"/><line x1="-2.6" y1="-7.20" x2="-2.6" y2="7.20" stroke="#000" stroke-width="0.9"/><line x1="0" y1="-7.70" x2="0" y2="7.70" stroke="#000" stroke-width="1.15"/><text x="-12.6" y="0" font-size="6.4" text-anchor="middle" fill="#223" transform="rotate(90 -12.6 0)">16</text><text x="-6.3" y="0" font-size="3" text-anchor="middle" fill="#79b" transform="rotate(90 -6.3 0)">Blue</text></g>
<g transform="translate(392.70 100.90) rotate(0)"><path d="M0 -7.20 L-14.50 -7.20 Q-17.00 -7.20 -17.00 -4.70 L-17.00 4.70 Q-17.00 7.20 -14.50 7.20 L0 7.20 Z" fill="#fff" stroke="#000" stroke-width="1.0"/><line x1="-2.6" y1="-7.20" x2="-2.6" y2="7.20" stroke="#000" stroke-width="0.9"/><line x1="0" y1="-7.70" x2="0" y2="7.70" stroke="#000" stroke-width="1.15"/><text x="-12.6" y="0" font-size="6.4" text-anchor="middle" fill="#223" transform="rotate(90 -12.6 0)">16</text><text x="-6.3" y="0" font-size="3" text-anchor="middle" fill="#79b" transform="rotate(90 -6.3 0)">Blue</text></g>
<g transform="translate(440.75 82.20) rotate(-57)"><path d="M0 -7.20 L-14.50 -7.20 Q-17.00 -7.20 -17.00 -4.70 L-17.00 4.70 Q-17.00 7.20 -14.50 7.20 L0 7.20 Z" fill="#fff" stroke="#000" stroke-width="1.0"/><line x1="-2.6" y1="-7.20" x2="-2.6" y2="7.20" stroke="#000" stroke-width="0.9"/><line x1="0" y1="-7.70" x2="0" y2="7.70" stroke="#000" stroke-width="1.15"/><text x="-12.6" y="0" font-size="6.4" text-anchor="middle" fill="#223" transform="rotate(90 -12.6 0)">16</text><text x="-6.3" y="0" font-size="3" text-anchor="middle" fill="#79b" transform="rotate(90 -6.3 0)">Blue</text></g>
<g transform="translate(441.20 120.10) rotate(54)"><path d="M0 -7.20 L-14.50 -7.20 Q-17.00 -7.20 -17.00 -4.70 L-17.00 4.70 Q-17.00 7.20 -14.50 7.20 L0 7.20 Z" fill="#fff" stroke="#000" stroke-width="1.0"/><line x1="-2.6" y1="-7.20" x2="-2.6" y2="7.20" stroke="#000" stroke-width="0.9"/><line x1="0" y1="-7.70" x2="0" y2="7.70" stroke="#000" stroke-width="1.15"/><text x="-12.6" y="0" font-size="6.4" text-anchor="middle" fill="#223" transform="rotate(90 -12.6 0)">16</text><text x="-6.3" y="0" font-size="3" text-anchor="middle" fill="#79b" transform="rotate(90 -6.3 0)">Blue</text></g>
<g transform="translate(450.60 101.10) rotate(0)"><path d="M0 -7.20 L-14.50 -7.20 Q-17.00 -7.20 -17.00 -4.70 L-17.00 4.70 Q-17.00 7.20 -14.50 7.20 L0 7.20 Z" fill="#fff" stroke="#000" stroke-width="1.0"/><rect x="-3" y="-6.60" width="3" height="13.20" fill="#888" stroke="#000" stroke-width="1.0"/><text x="-12.6" y="0" font-size="6.4" text-anchor="middle" fill="#223" transform="rotate(90 -12.6 0)">16</text><text x="-6.3" y="0" font-size="3" text-anchor="middle" fill="#79b" transform="rotate(90 -6.3 0)">Blue</text></g>
<circle cx="424.00" cy="98.30" r="12.90" fill="#fff" stroke="#000" stroke-width="1.0"/>
<line x1="420.40" y1="95.00" x2="428.20" y2="102.80" stroke="#000" stroke-width="1.4" />
<line x1="420.40" y1="102.80" x2="428.20" y2="95.00" stroke="#000" stroke-width="1.4" />
<circle cx="312.70" cy="172.70" r="12.90" fill="#fff" stroke="#000" stroke-width="1.0"/>
<line x1="309.10" y1="169.40" x2="316.90" y2="177.20" stroke="#000" stroke-width="1.4" />
<line x1="309.10" y1="177.20" x2="316.90" y2="169.40" stroke="#000" stroke-width="1.4" />
<g transform="translate(329.45 156.60) rotate(-57)"><path d="M0 -7.20 L-14.50 -7.20 Q-17.00 -7.20 -17.00 -4.70 L-17.00 4.70 Q-17.00 7.20 -14.50 7.20 L0 7.20 Z" fill="#fff" stroke="#000" stroke-width="1.0"/><line x1="-2.6" y1="-7.20" x2="-2.6" y2="7.20" stroke="#000" stroke-width="0.9"/><line x1="0" y1="-7.70" x2="0" y2="7.70" stroke="#000" stroke-width="1.15"/><text x="-12.6" y="0" font-size="6.4" text-anchor="middle" fill="#223" transform="rotate(90 -12.6 0)">16</text><text x="-6.3" y="0" font-size="3" text-anchor="middle" fill="#79b" transform="rotate(90 -6.3 0)">Blue</text></g>
<g transform="translate(329.90 194.50) rotate(54)"><path d="M0 -7.20 L-14.50 -7.20 Q-17.00 -7.20 -17.00 -4.70 L-17.00 4.70 Q-17.00 7.20 -14.50 7.20 L0 7.20 Z" fill="#fff" stroke="#000" stroke-width="1.0"/><line x1="-2.6" y1="-7.20" x2="-2.6" y2="7.20" stroke="#000" stroke-width="0.9"/><line x1="0" y1="-7.70" x2="0" y2="7.70" stroke="#000" stroke-width="1.15"/><text x="-12.6" y="0" font-size="6.4" text-anchor="middle" fill="#223" transform="rotate(90 -12.6 0)">16</text><text x="-6.3" y="0" font-size="3" text-anchor="middle" fill="#79b" transform="rotate(90 -6.3 0)">Blue</text></g>
<g transform="translate(339.30 175.50) rotate(0)"><path d="M0 -7.20 L-14.50 -7.20 Q-17.00 -7.20 -17.00 -4.70 L-17.00 4.70 Q-17.00 7.20 -14.50 7.20 L0 7.20 Z" fill="#fff" stroke="#000" stroke-width="1.0"/><line x1="-2.6" y1="-7.20" x2="-2.6" y2="7.20" stroke="#000" stroke-width="0.9"/><line x1="0" y1="-7.70" x2="0" y2="7.70" stroke="#000" stroke-width="1.15"/><text x="-12.6" y="0" font-size="6.4" text-anchor="middle" fill="#223" transform="rotate(90 -12.6 0)">16</text><text x="-6.3" y="0" font-size="3" text-anchor="middle" fill="#79b" transform="rotate(90 -6.3 0)">Blue</text></g>
<g transform="translate(382.85 153.20) rotate(-57)"><path d="M0 -7.20 L-14.50 -7.20 Q-17.00 -7.20 -17.00 -4.70 L-17.00 4.70 Q-17.00 7.20 -14.50 7.20 L0 7.20 Z" fill="#fff" stroke="#000" stroke-width="1.0"/><line x1="-2.6" y1="-7.20" x2="-2.6" y2="7.20" stroke="#000" stroke-width="0.9"/><line x1="0" y1="-7.70" x2="0" y2="7.70" stroke="#000" stroke-width="1.15"/><text x="-12.6" y="0" font-size="6.4" text-anchor="middle" fill="#223" transform="rotate(90 -12.6 0)">16</text><text x="-6.3" y="0" font-size="3" text-anchor="middle" fill="#79b" transform="rotate(90 -6.3 0)">Blue</text></g>
<g transform="translate(383.30 191.10) rotate(54)"><path d="M0 -7.20 L-14.50 -7.20 Q-17.00 -7.20 -17.00 -4.70 L-17.00 4.70 Q-17.00 7.20 -14.50 7.20 L0 7.20 Z" fill="#fff" stroke="#000" stroke-width="1.0"/><line x1="-2.6" y1="-7.20" x2="-2.6" y2="7.20" stroke="#000" stroke-width="0.9"/><line x1="0" y1="-7.70" x2="0" y2="7.70" stroke="#000" stroke-width="1.15"/><text x="-12.6" y="0" font-size="6.4" text-anchor="middle" fill="#223" transform="rotate(90 -12.6 0)">16</text><text x="-6.3" y="0" font-size="3" text-anchor="middle" fill="#79b" transform="rotate(90 -6.3 0)">Blue</text></g>
<g transform="translate(392.70 172.10) rotate(0)"><path d="M0 -7.20 L-14.50 -7.20 Q-17.00 -7.20 -17.00 -4.70 L-17.00 4.70 Q-17.00 7.20 -14.50 7.20 L0 7.20 Z" fill="#fff" stroke="#000" stroke-width="1.0"/><line x1="-2.6" y1="-7.20" x2="-2.6" y2="7.20" stroke="#000" stroke-width="0.9"/><line x1="0" y1="-7.70" x2="0" y2="7.70" stroke="#000" stroke-width="1.15"/><text x="-12.6" y="0" font-size="6.4" text-anchor="middle" fill="#223" transform="rotate(90 -12.6 0)">16</text><text x="-6.3" y="0" font-size="3" text-anchor="middle" fill="#79b" transform="rotate(90 -6.3 0)">Blue</text></g>
<circle cx="370.30" cy="173.00" r="12.90" fill="#fff" stroke="#000" stroke-width="1.0"/>
<line x1="366.70" y1="169.70" x2="374.50" y2="177.50" stroke="#000" stroke-width="1.4" />
<line x1="366.70" y1="177.50" x2="374.50" y2="169.70" stroke="#000" stroke-width="1.4" />
<g transform="translate(440.75 153.20) rotate(-57)"><path d="M0 -7.20 L-14.50 -7.20 Q-17.00 -7.20 -17.00 -4.70 L-17.00 4.70 Q-17.00 7.20 -14.50 7.20 L0 7.20 Z" fill="#fff" stroke="#000" stroke-width="1.0"/><line x1="-2.6" y1="-7.20" x2="-2.6" y2="7.20" stroke="#000" stroke-width="0.9"/><line x1="0" y1="-7.70" x2="0" y2="7.70" stroke="#000" stroke-width="1.15"/><text x="-12.6" y="0" font-size="6.4" text-anchor="middle" fill="#223" transform="rotate(90 -12.6 0)">16</text><text x="-6.3" y="0" font-size="3" text-anchor="middle" fill="#79b" transform="rotate(90 -6.3 0)">Blue</text></g>
<g transform="translate(441.20 191.10) rotate(54)"><path d="M0 -7.20 L-14.50 -7.20 Q-17.00 -7.20 -17.00 -4.70 L-17.00 4.70 Q-17.00 7.20 -14.50 7.20 L0 7.20 Z" fill="#fff" stroke="#000" stroke-width="1.0"/><line x1="-2.6" y1="-7.20" x2="-2.6" y2="7.20" stroke="#000" stroke-width="0.9"/><line x1="0" y1="-7.70" x2="0" y2="7.70" stroke="#000" stroke-width="1.15"/><text x="-12.6" y="0" font-size="6.4" text-anchor="middle" fill="#223" transform="rotate(90 -12.6 0)">16</text><text x="-6.3" y="0" font-size="3" text-anchor="middle" fill="#79b" transform="rotate(90 -6.3 0)">Blue</text></g>
<g transform="translate(450.60 172.10) rotate(0)"><path d="M0 -7.20 L-14.50 -7.20 Q-17.00 -7.20 -17.00 -4.70 L-17.00 4.70 Q-17.00 7.20 -14.50 7.20 L0 7.20 Z" fill="#fff" stroke="#000" stroke-width="1.0"/><rect x="-3" y="-6.60" width="3" height="13.20" fill="#888" stroke="#000" stroke-width="1.0"/><text x="-12.6" y="0" font-size="6.4" text-anchor="middle" fill="#223" transform="rotate(90 -12.6 0)">16</text><text x="-6.3" y="0" font-size="3" text-anchor="middle" fill="#79b" transform="rotate(90 -6.3 0)">Blue</text></g>
<circle cx="424.00" cy="169.30" r="12.90" fill="#fff" stroke="#000" stroke-width="1.0"/>
<line x1="420.40" y1="166.00" x2="428.20" y2="173.80" stroke="#000" stroke-width="1.4" />
<line x1="420.40" y1="173.80" x2="428.20" y2="166.00" stroke="#000" stroke-width="1.4" />
<text x="209.80" y="220.60" font-size="21.15" text-anchor="start" fill="#000" stroke="#000" stroke-width="0.15">(50'x20')</text>
<text x="151.60" y="257.40" font-size="30.35" text-anchor="start" fill="#000" stroke="#000" stroke-width="0.2">ASSH Theater</text>
<text x="487.20" y="130.20" font-size="31" text-anchor="start" fill="#000" stroke="#000" stroke-width="0.2">8'</text>
<text x="598.30" y="130.20" font-size="31" text-anchor="start" fill="#000" stroke="#000" stroke-width="0.2">6'</text>
<rect x="-6.5" y="-36.9" width="13" height="16" rx="1.6" fill="#fff" stroke="#000" stroke-width="1.0" transform="translate(559.10 119.75) rotate(0)"/>
<rect x="-6.5" y="-36.9" width="13" height="16" rx="1.6" fill="#fff" stroke="#000" stroke-width="1.0" transform="translate(559.10 119.75) rotate(36)"/>
<rect x="-6.5" y="-36.9" width="13" height="16" rx="1.6" fill="#fff" stroke="#000" stroke-width="1.0" transform="translate(559.10 119.75) rotate(72)"/>
<rect x="-6.5" y="-36.9" width="13" height="16" rx="1.6" fill="#fff" stroke="#000" stroke-width="1.0" transform="translate(559.10 119.75) rotate(108)"/>
<rect x="-6.5" y="-36.9" width="13" height="16" rx="1.6" fill="#fff" stroke="#000" stroke-width="1.0" transform="translate(559.10 119.75) rotate(144)"/>
<rect x="-6.5" y="-36.9" width="13" height="16" rx="1.6" fill="#fff" stroke="#000" stroke-width="1.0" transform="translate(559.10 119.75) rotate(180)"/>
<rect x="-6.5" y="-36.9" width="13" height="16" rx="1.6" fill="#fff" stroke="#000" stroke-width="1.0" transform="translate(559.10 119.75) rotate(216)"/>
<rect x="-6.5" y="-36.9" width="13" height="16" rx="1.6" fill="#fff" stroke="#000" stroke-width="1.0" transform="translate(559.10 119.75) rotate(252)"/>
<rect x="-6.5" y="-36.9" width="13" height="16" rx="1.6" fill="#fff" stroke="#000" stroke-width="1.0" transform="translate(559.10 119.75) rotate(288)"/>
<rect x="-6.5" y="-36.9" width="13" height="16" rx="1.6" fill="#fff" stroke="#000" stroke-width="1.0" transform="translate(559.10 119.75) rotate(324)"/>
<circle cx="559.10" cy="119.75" r="25.70" fill="#fff" stroke="#000" stroke-width="1.0"/>
<text x="558.80" y="117.25" font-size="10.7" text-anchor="middle" fill="#111" >6' BANQ</text>
<text x="558.50" y="130.35" font-size="10.7" text-anchor="middle" fill="#111" >10</text>
<rect x="-6.5" y="-36.9" width="13" height="16" rx="1.6" fill="#fff" stroke="#000" stroke-width="1.0" transform="translate(610.90 211.20) rotate(0)"/>
<rect x="-6.5" y="-36.9" width="13" height="16" rx="1.6" fill="#fff" stroke="#000" stroke-width="1.0" transform="translate(610.90 211.20) rotate(36)"/>
<rect x="-6.5" y="-36.9" width="13" height="16" rx="1.6" fill="#fff" stroke="#000" stroke-width="1.0" transform="translate(610.90 211.20) rotate(72)"/>
<rect x="-6.5" y="-36.9" width="13" height="16" rx="1.6" fill="#fff" stroke="#000" stroke-width="1.0" transform="translate(610.90 211.20) rotate(108)"/>
<rect x="-6.5" y="-36.9" width="13" height="16" rx="1.6" fill="#fff" stroke="#000" stroke-width="1.0" transform="translate(610.90 211.20) rotate(144)"/>
<rect x="-6.5" y="-36.9" width="13" height="16" rx="1.6" fill="#fff" stroke="#000" stroke-width="1.0" transform="translate(610.90 211.20) rotate(180)"/>
<rect x="-6.5" y="-36.9" width="13" height="16" rx="1.6" fill="#fff" stroke="#000" stroke-width="1.0" transform="translate(610.90 211.20) rotate(216)"/>
<rect x="-6.5" y="-36.9" width="13" height="16" rx="1.6" fill="#fff" stroke="#000" stroke-width="1.0" transform="translate(610.90 211.20) rotate(252)"/>
<rect x="-6.5" y="-36.9" width="13" height="16" rx="1.6" fill="#fff" stroke="#000" stroke-width="1.0" transform="translate(610.90 211.20) rotate(288)"/>
<rect x="-6.5" y="-36.9" width="13" height="16" rx="1.6" fill="#fff" stroke="#000" stroke-width="1.0" transform="translate(610.90 211.20) rotate(324)"/>
<circle cx="610.90" cy="211.20" r="25.70" fill="#fff" stroke="#000" stroke-width="1.0"/>
<text x="610.60" y="208.70" font-size="10.7" text-anchor="middle" fill="#111" >6' BANQ</text>
<text x="610.30" y="221.80" font-size="10.7" text-anchor="middle" fill="#111" >10</text>
<rect x="-6.5" y="-36.9" width="13" height="16" rx="1.6" fill="#fff" stroke="#000" stroke-width="1.0" transform="translate(661.87 119.75) rotate(0)"/>
<rect x="-6.5" y="-36.9" width="13" height="16" rx="1.6" fill="#fff" stroke="#000" stroke-width="1.0" transform="translate(661.87 119.75) rotate(36)"/>
<rect x="-6.5" y="-36.9" width="13" height="16" rx="1.6" fill="#fff" stroke="#000" stroke-width="1.0" transform="translate(661.87 119.75) rotate(72)"/>
<rect x="-6.5" y="-36.9" width="13" height="16" rx="1.6" fill="#fff" stroke="#000" stroke-width="1.0" transform="translate(661.87 119.75) rotate(108)"/>
<rect x="-6.5" y="-36.9" width="13" height="16" rx="1.6" fill="#fff" stroke="#000" stroke-width="1.0" transform="translate(661.87 119.75) rotate(144)"/>
<rect x="-6.5" y="-36.9" width="13" height="16" rx="1.6" fill="#fff" stroke="#000" stroke-width="1.0" transform="translate(661.87 119.75) rotate(180)"/>
<rect x="-6.5" y="-36.9" width="13" height="16" rx="1.6" fill="#fff" stroke="#000" stroke-width="1.0" transform="translate(661.87 119.75) rotate(216)"/>
<rect x="-6.5" y="-36.9" width="13" height="16" rx="1.6" fill="#fff" stroke="#000" stroke-width="1.0" transform="translate(661.87 119.75) rotate(252)"/>
<rect x="-6.5" y="-36.9" width="13" height="16" rx="1.6" fill="#fff" stroke="#000" stroke-width="1.0" transform="translate(661.87 119.75) rotate(288)"/>
<rect x="-6.5" y="-36.9" width="13" height="16" rx="1.6" fill="#fff" stroke="#000" stroke-width="1.0" transform="translate(661.87 119.75) rotate(324)"/>
<circle cx="661.87" cy="119.75" r="25.70" fill="#fff" stroke="#000" stroke-width="1.0"/>
<text x="661.57" y="117.25" font-size="10.7" text-anchor="middle" fill="#111" >6' BANQ</text>
<text x="661.27" y="130.35" font-size="10.7" text-anchor="middle" fill="#111" >10</text>
<rect x="-6.5" y="-36.9" width="13" height="16" rx="1.6" fill="#fff" stroke="#000" stroke-width="1.0" transform="translate(714.05 211.20) rotate(0)"/>
<rect x="-6.5" y="-36.9" width="13" height="16" rx="1.6" fill="#fff" stroke="#000" stroke-width="1.0" transform="translate(714.05 211.20) rotate(36)"/>
<rect x="-6.5" y="-36.9" width="13" height="16" rx="1.6" fill="#fff" stroke="#000" stroke-width="1.0" transform="translate(714.05 211.20) rotate(72)"/>
<rect x="-6.5" y="-36.9" width="13" height="16" rx="1.6" fill="#fff" stroke="#000" stroke-width="1.0" transform="translate(714.05 211.20) rotate(108)"/>
<rect x="-6.5" y="-36.9" width="13" height="16" rx="1.6" fill="#fff" stroke="#000" stroke-width="1.0" transform="translate(714.05 211.20) rotate(144)"/>
<rect x="-6.5" y="-36.9" width="13" height="16" rx="1.6" fill="#fff" stroke="#000" stroke-width="1.0" transform="translate(714.05 211.20) rotate(180)"/>
<rect x="-6.5" y="-36.9" width="13" height="16" rx="1.6" fill="#fff" stroke="#000" stroke-width="1.0" transform="translate(714.05 211.20) rotate(216)"/>
<rect x="-6.5" y="-36.9" width="13" height="16" rx="1.6" fill="#fff" stroke="#000" stroke-width="1.0" transform="translate(714.05 211.20) rotate(252)"/>
<rect x="-6.5" y="-36.9" width="13" height="16" rx="1.6" fill="#fff" stroke="#000" stroke-width="1.0" transform="translate(714.05 211.20) rotate(288)"/>
<rect x="-6.5" y="-36.9" width="13" height="16" rx="1.6" fill="#fff" stroke="#000" stroke-width="1.0" transform="translate(714.05 211.20) rotate(324)"/>
<circle cx="714.05" cy="211.20" r="25.70" fill="#fff" stroke="#000" stroke-width="1.0"/>
<text x="713.75" y="208.70" font-size="10.7" text-anchor="middle" fill="#111" >6' BANQ</text>
<text x="713.45" y="221.80" font-size="10.7" text-anchor="middle" fill="#111" >10</text>
<rect x="-6.5" y="-36.9" width="13" height="16" rx="1.6" fill="#fff" stroke="#000" stroke-width="1.0" transform="translate(764.64 119.75) rotate(0)"/>
<rect x="-6.5" y="-36.9" width="13" height="16" rx="1.6" fill="#fff" stroke="#000" stroke-width="1.0" transform="translate(764.64 119.75) rotate(36)"/>
<rect x="-6.5" y="-36.9" width="13" height="16" rx="1.6" fill="#fff" stroke="#000" stroke-width="1.0" transform="translate(764.64 119.75) rotate(72)"/>
<rect x="-6.5" y="-36.9" width="13" height="16" rx="1.6" fill="#fff" stroke="#000" stroke-width="1.0" transform="translate(764.64 119.75) rotate(108)"/>
<rect x="-6.5" y="-36.9" width="13" height="16" rx="1.6" fill="#fff" stroke="#000" stroke-width="1.0" transform="translate(764.64 119.75) rotate(144)"/>
<rect x="-6.5" y="-36.9" width="13" height="16" rx="1.6" fill="#fff" stroke="#000" stroke-width="1.0" transform="translate(764.64 119.75) rotate(180)"/>
<rect x="-6.5" y="-36.9" width="13" height="16" rx="1.6" fill="#fff" stroke="#000" stroke-width="1.0" transform="translate(764.64 119.75) rotate(216)"/>
<rect x="-6.5" y="-36.9" width="13" height="16" rx="1.6" fill="#fff" stroke="#000" stroke-width="1.0" transform="translate(764.64 119.75) rotate(252)"/>
<rect x="-6.5" y="-36.9" width="13" height="16" rx="1.6" fill="#fff" stroke="#000" stroke-width="1.0" transform="translate(764.64 119.75) rotate(288)"/>
<rect x="-6.5" y="-36.9" width="13" height="16" rx="1.6" fill="#fff" stroke="#000" stroke-width="1.0" transform="translate(764.64 119.75) rotate(324)"/>
<circle cx="764.64" cy="119.75" r="25.70" fill="#fff" stroke="#000" stroke-width="1.0"/>
<text x="764.34" y="117.25" font-size="10.7" text-anchor="middle" fill="#111" >6' BANQ</text>
<text x="764.04" y="130.35" font-size="10.7" text-anchor="middle" fill="#111" >10</text>
<rect x="-6.5" y="-36.9" width="13" height="16" rx="1.6" fill="#fff" stroke="#000" stroke-width="1.0" transform="translate(817.20 211.20) rotate(0)"/>
<rect x="-6.5" y="-36.9" width="13" height="16" rx="1.6" fill="#fff" stroke="#000" stroke-width="1.0" transform="translate(817.20 211.20) rotate(36)"/>
<rect x="-6.5" y="-36.9" width="13" height="16" rx="1.6" fill="#fff" stroke="#000" stroke-width="1.0" transform="translate(817.20 211.20) rotate(72)"/>
<rect x="-6.5" y="-36.9" width="13" height="16" rx="1.6" fill="#fff" stroke="#000" stroke-width="1.0" transform="translate(817.20 211.20) rotate(108)"/>
<rect x="-6.5" y="-36.9" width="13" height="16" rx="1.6" fill="#fff" stroke="#000" stroke-width="1.0" transform="translate(817.20 211.20) rotate(144)"/>
<rect x="-6.5" y="-36.9" width="13" height="16" rx="1.6" fill="#fff" stroke="#000" stroke-width="1.0" transform="translate(817.20 211.20) rotate(180)"/>
<rect x="-6.5" y="-36.9" width="13" height="16" rx="1.6" fill="#fff" stroke="#000" stroke-width="1.0" transform="translate(817.20 211.20) rotate(216)"/>
<rect x="-6.5" y="-36.9" width="13" height="16" rx="1.6" fill="#fff" stroke="#000" stroke-width="1.0" transform="translate(817.20 211.20) rotate(252)"/>
<rect x="-6.5" y="-36.9" width="13" height="16" rx="1.6" fill="#fff" stroke="#000" stroke-width="1.0" transform="translate(817.20 211.20) rotate(288)"/>
<rect x="-6.5" y="-36.9" width="13" height="16" rx="1.6" fill="#fff" stroke="#000" stroke-width="1.0" transform="translate(817.20 211.20) rotate(324)"/>
<circle cx="817.20" cy="211.20" r="25.70" fill="#fff" stroke="#000" stroke-width="1.0"/>
<text x="816.90" y="208.70" font-size="10.7" text-anchor="middle" fill="#111" >6' BANQ</text>
<text x="816.60" y="221.80" font-size="10.7" text-anchor="middle" fill="#111" >10</text>
<rect x="-6.5" y="-36.9" width="13" height="16" rx="1.6" fill="#fff" stroke="#000" stroke-width="1.0" transform="translate(867.41 119.75) rotate(0)"/>
<rect x="-6.5" y="-36.9" width="13" height="16" rx="1.6" fill="#fff" stroke="#000" stroke-width="1.0" transform="translate(867.41 119.75) rotate(36)"/>
<rect x="-6.5" y="-36.9" width="13" height="16" rx="1.6" fill="#fff" stroke="#000" stroke-width="1.0" transform="translate(867.41 119.75) rotate(72)"/>
<rect x="-6.5" y="-36.9" width="13" height="16" rx="1.6" fill="#fff" stroke="#000" stroke-width="1.0" transform="translate(867.41 119.75) rotate(108)"/>
<rect x="-6.5" y="-36.9" width="13" height="16" rx="1.6" fill="#fff" stroke="#000" stroke-width="1.0" transform="translate(867.41 119.75) rotate(144)"/>
<rect x="-6.5" y="-36.9" width="13" height="16" rx="1.6" fill="#fff" stroke="#000" stroke-width="1.0" transform="translate(867.41 119.75) rotate(180)"/>
<rect x="-6.5" y="-36.9" width="13" height="16" rx="1.6" fill="#fff" stroke="#000" stroke-width="1.0" transform="translate(867.41 119.75) rotate(216)"/>
<rect x="-6.5" y="-36.9" width="13" height="16" rx="1.6" fill="#fff" stroke="#000" stroke-width="1.0" transform="translate(867.41 119.75) rotate(252)"/>
<rect x="-6.5" y="-36.9" width="13" height="16" rx="1.6" fill="#fff" stroke="#000" stroke-width="1.0" transform="translate(867.41 119.75) rotate(288)"/>
<rect x="-6.5" y="-36.9" width="13" height="16" rx="1.6" fill="#fff" stroke="#000" stroke-width="1.0" transform="translate(867.41 119.75) rotate(324)"/>
<circle cx="867.41" cy="119.75" r="25.70" fill="#fff" stroke="#000" stroke-width="1.0"/>
<text x="867.11" y="117.25" font-size="10.7" text-anchor="middle" fill="#111" >6' BANQ</text>
<text x="866.81" y="130.35" font-size="10.7" text-anchor="middle" fill="#111" >10</text>
<rect x="-6.5" y="-36.9" width="13" height="16" rx="1.6" fill="#fff" stroke="#000" stroke-width="1.0" transform="translate(920.35 211.20) rotate(0)"/>
<rect x="-6.5" y="-36.9" width="13" height="16" rx="1.6" fill="#fff" stroke="#000" stroke-width="1.0" transform="translate(920.35 211.20) rotate(36)"/>
<rect x="-6.5" y="-36.9" width="13" height="16" rx="1.6" fill="#fff" stroke="#000" stroke-width="1.0" transform="translate(920.35 211.20) rotate(72)"/>
<rect x="-6.5" y="-36.9" width="13" height="16" rx="1.6" fill="#fff" stroke="#000" stroke-width="1.0" transform="translate(920.35 211.20) rotate(108)"/>
<rect x="-6.5" y="-36.9" width="13" height="16" rx="1.6" fill="#fff" stroke="#000" stroke-width="1.0" transform="translate(920.35 211.20) rotate(144)"/>
<rect x="-6.5" y="-36.9" width="13" height="16" rx="1.6" fill="#fff" stroke="#000" stroke-width="1.0" transform="translate(920.35 211.20) rotate(180)"/>
<rect x="-6.5" y="-36.9" width="13" height="16" rx="1.6" fill="#fff" stroke="#000" stroke-width="1.0" transform="translate(920.35 211.20) rotate(216)"/>
<rect x="-6.5" y="-36.9" width="13" height="16" rx="1.6" fill="#fff" stroke="#000" stroke-width="1.0" transform="translate(920.35 211.20) rotate(252)"/>
<rect x="-6.5" y="-36.9" width="13" height="16" rx="1.6" fill="#fff" stroke="#000" stroke-width="1.0" transform="translate(920.35 211.20) rotate(288)"/>
<rect x="-6.5" y="-36.9" width="13" height="16" rx="1.6" fill="#fff" stroke="#000" stroke-width="1.0" transform="translate(920.35 211.20) rotate(324)"/>
<circle cx="920.35" cy="211.20" r="25.70" fill="#fff" stroke="#000" stroke-width="1.0"/>
<text x="920.05" y="208.70" font-size="10.7" text-anchor="middle" fill="#111" >6' BANQ</text>
<text x="919.75" y="221.80" font-size="10.7" text-anchor="middle" fill="#111" >10</text>
<text x="40.40" y="393.90" font-size="30.2" text-anchor="start" fill="#000" stroke="#000" stroke-width="0.2">128</text>
<text x="40.40" y="479.80" font-size="30.2" text-anchor="start" fill="#000" stroke="#000" stroke-width="0.2">126</text>
<text x="211.90" y="393.90" font-size="30.2" text-anchor="start" fill="#000" stroke="#000" stroke-width="0.2">129</text>
<text x="211.90" y="479.80" font-size="30.2" text-anchor="start" fill="#000" stroke="#000" stroke-width="0.2">127</text>
<text x="297.65" y="393.90" font-size="30.2" text-anchor="start" fill="#000" stroke="#000" stroke-width="0.2">228</text>
<text x="297.65" y="479.80" font-size="30.2" text-anchor="start" fill="#000" stroke="#000" stroke-width="0.2">226</text>
<text x="469.15" y="393.90" font-size="30.2" text-anchor="start" fill="#000" stroke="#000" stroke-width="0.2">229</text>
<text x="469.15" y="479.80" font-size="30.2" text-anchor="start" fill="#000" stroke="#000" stroke-width="0.2">227</text>
<text x="554.90" y="393.90" font-size="30.2" text-anchor="start" fill="#000" stroke="#000" stroke-width="0.2">328</text>
<text x="554.90" y="479.80" font-size="30.2" text-anchor="start" fill="#000" stroke="#000" stroke-width="0.2">326</text>
<text x="726.40" y="393.90" font-size="30.2" text-anchor="start" fill="#000" stroke="#000" stroke-width="0.2">329</text>
<text x="726.40" y="479.80" font-size="30.2" text-anchor="start" fill="#000" stroke="#000" stroke-width="0.2">327</text>
<text x="812.15" y="393.90" font-size="30.2" text-anchor="start" fill="#000" stroke="#000" stroke-width="0.2">428</text>
<text x="812.15" y="479.80" font-size="30.2" text-anchor="start" fill="#000" stroke="#000" stroke-width="0.2">426</text>
<line x1="34.85" y1="314.10" x2="121.90" y2="314.10" stroke="#000" stroke-width="1.25" />
<line x1="34.85" y1="400.00" x2="121.90" y2="400.00" stroke="#000" stroke-width="1.25" />
<line x1="34.85" y1="485.90" x2="121.90" y2="485.90" stroke="#000" stroke-width="1.25" />
<line x1="35.50" y1="314.10" x2="35.50" y2="491.00" stroke="#000" stroke-width="1.25" />
<line x1="121.25" y1="314.10" x2="121.25" y2="491.00" stroke="#000" stroke-width="1.25" />
<line x1="206.35" y1="314.10" x2="379.15" y2="314.10" stroke="#000" stroke-width="1.25" />
<line x1="206.35" y1="400.00" x2="379.15" y2="400.00" stroke="#000" stroke-width="1.25" />
<line x1="206.35" y1="485.90" x2="379.15" y2="485.90" stroke="#000" stroke-width="1.25" />
<line x1="207.00" y1="314.10" x2="207.00" y2="491.00" stroke="#000" stroke-width="1.25" />
<line x1="292.75" y1="314.10" x2="292.75" y2="491.00" stroke="#000" stroke-width="1.25" />
<line x1="378.50" y1="314.10" x2="378.50" y2="491.00" stroke="#000" stroke-width="1.25" />
<line x1="463.60" y1="314.10" x2="636.40" y2="314.10" stroke="#000" stroke-width="1.25" />
<line x1="463.60" y1="400.00" x2="636.40" y2="400.00" stroke="#000" stroke-width="1.25" />
<line x1="463.60" y1="485.90" x2="636.40" y2="485.90" stroke="#000" stroke-width="1.25" />
<line x1="464.25" y1="314.10" x2="464.25" y2="491.00" stroke="#000" stroke-width="1.25" />
<line x1="550.00" y1="314.10" x2="550.00" y2="491.00" stroke="#000" stroke-width="1.25" />
<line x1="635.75" y1="314.10" x2="635.75" y2="491.00" stroke="#000" stroke-width="1.25" />
<line x1="720.85" y1="314.10" x2="893.65" y2="314.10" stroke="#000" stroke-width="1.25" />
<line x1="720.85" y1="400.00" x2="893.65" y2="400.00" stroke="#000" stroke-width="1.25" />
<line x1="720.85" y1="485.90" x2="893.65" y2="485.90" stroke="#000" stroke-width="1.25" />
<line x1="721.50" y1="314.10" x2="721.50" y2="491.00" stroke="#000" stroke-width="1.25" />
<line x1="807.25" y1="314.10" x2="807.25" y2="491.00" stroke="#000" stroke-width="1.25" />
<line x1="893.00" y1="314.10" x2="893.00" y2="491.00" stroke="#000" stroke-width="1.25" />
</svg>
</body></html>
